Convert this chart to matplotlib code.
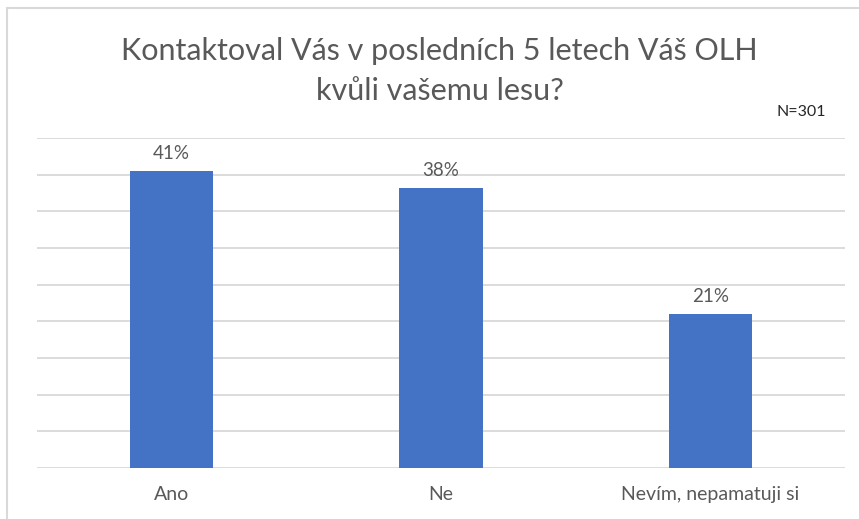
import matplotlib.pyplot as plt
from matplotlib.patches import Rectangle

# data
categories = ["Ano", "Ne", "Nevím, nepamatuji si"]
values = [40.5, 38.2, 21.0]
labels = ["41%", "38%", "21%"]
title = "Kontaktoval Vás v posledních 5 letech Váš OLH\nkvůli vašemu lesu?"
note = "N=301"

plt.rcParams['font.family'] = ['Lato', 'DejaVu Sans']
text_col = "#595959"
bar_col = "#4472C4"
grid_col = "#d9d9d9"

fig = plt.figure(figsize=(8.59, 5.19), dpi=100)
ax = fig.add_axes([37/859, 1 - 468/519, (845 - 37)/859, (468 - 138)/519])

x = range(len(categories))
ax.bar(x, values, width=0.31, color=bar_col, zorder=3)
for i, v in enumerate(values):
    ax.text(i, v + 1.2, labels[i], ha="center", va="bottom", fontsize=13.5, color=text_col)

ax.set_xlim(-0.5, 2.5)
ax.set_ylim(0, 45)
ax.set_yticks(range(0, 46, 5))
ax.yaxis.grid(True, color=grid_col, linewidth=1.3, zorder=0)
ax.set_yticklabels([])
ax.tick_params(axis="y", length=0)
ax.set_xticks(list(x))
ax.set_xticklabels(categories, fontsize=14, color=text_col)
ax.tick_params(axis="x", length=0, pad=13)
for s in ax.spines.values():
    s.set_visible(False)

fig.text(0.512, 1 - 71/519, title, ha="center", va="center", fontsize=22,
         color=text_col, linespacing=1.5)
fig.text(826/859, 1 - 112/519, note, ha="right", va="center", fontsize=11.5, color="#262626")

# chart border
fig.patches.append(Rectangle((7/859, -0.02), 1.0, 1 - 8/519 + 0.02, transform=fig.transFigure,
                             fill=False, edgecolor=grid_col, linewidth=1.5))

fig.savefig("out.png", dpi=100)
